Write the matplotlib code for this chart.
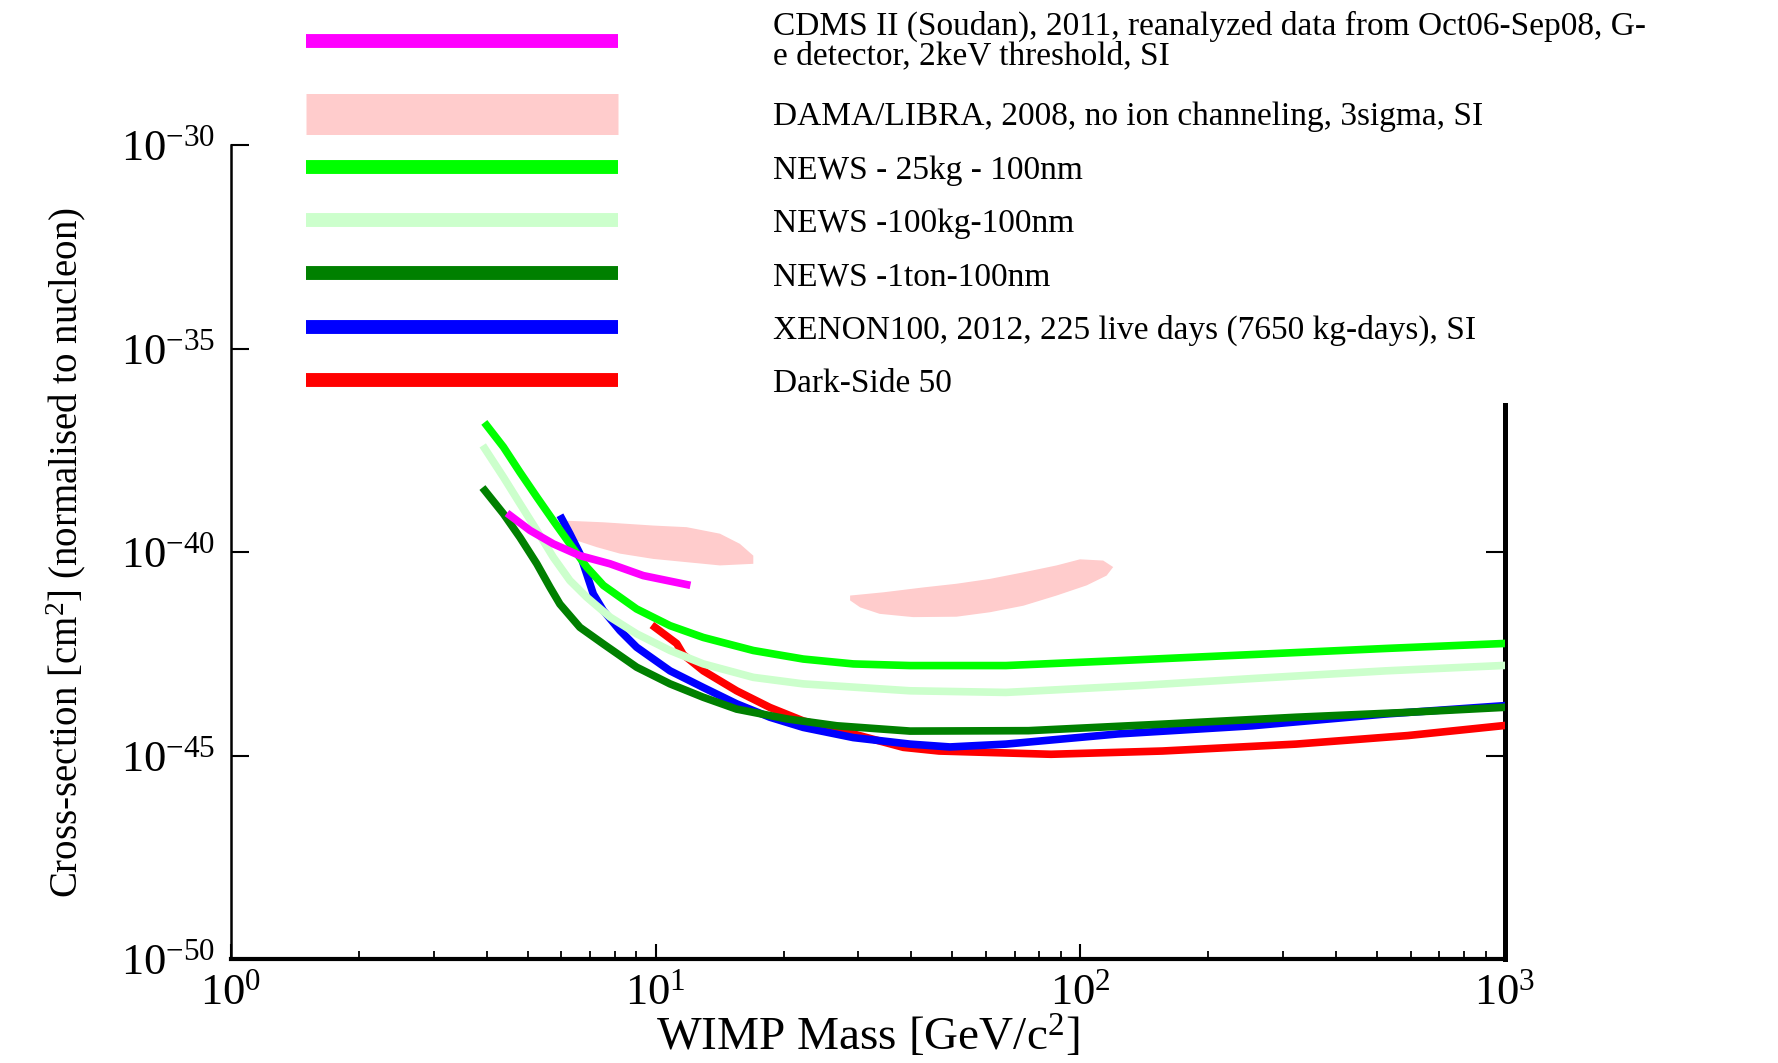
import numpy as np
import matplotlib.pyplot as plt
from matplotlib.lines import Line2D
from matplotlib.ticker import LogLocator, NullLocator, NullFormatter

plt.rcParams['font.family'] = 'Liberation Serif'
plt.rcParams['mathtext.fontset'] = 'custom'
plt.rcParams['mathtext.rm'] = 'Liberation Serif'
plt.rcParams['mathtext.it'] = 'Liberation Serif:italic'
plt.rcParams['mathtext.bf'] = 'Liberation Serif:bold'

# WIMP mass [GeV] and log10(cross-section [cm^2])
cdms_m = [4.54, 5.06, 5.74, 6.63, 7.81, 9.35, 11.83]
cdms_s = [-39.10, -39.47, -39.80, -40.09, -40.29, -40.58, -40.80]

# DAMA/LIBRA 3 sigma regions (closed contours)
dama1_m = [6.12, 7.53, 9.87, 11.83, 14.17, 15.79, 16.98, 16.98, 14.17, 11.83, 9.87, 8.24,
           7.26, 6.52, 6.17, 6.12]
dama1_s = [-39.23, -39.27, -39.35, -39.39, -39.55, -39.80, -40.09, -40.29, -40.33, -40.25,
           -40.17, -40.04, -39.88, -39.72, -39.47, -39.23]
dama2_m = [28.7, 34.4, 42.7, 51.1, 61.3, 73.4, 87.9, 99.8, 113.2, 119.5, 115.3, 103.5, 87.9,
           73.4, 61.3, 51.1, 40.4, 33.7, 30.3, 28.7]
dama2_s = [-41.07, -40.99, -40.87, -40.78, -40.66, -40.50, -40.33, -40.18, -40.21, -40.37,
           -40.58, -40.82, -41.07, -41.32, -41.48, -41.59, -41.60, -41.52, -41.36, -41.19]

news25_m = [4.0, 4.38, 4.79, 5.25, 5.74, 6.28, 6.88, 7.53, 9.02, 10.81, 12.95, 16.98, 22.26,
            29.2, 39.7, 66.8, 122.6, 253.6, 524, 983]
news25_s = [-36.89, -37.42, -38.04, -38.65, -39.23, -39.80, -40.37, -40.82, -41.40, -41.81,
            -42.10, -42.42, -42.63, -42.75, -42.79, -42.79, -42.67, -42.52, -42.37, -42.25]

news100_m = [3.96, 4.38, 4.79, 5.25, 5.74, 6.28, 6.88, 7.81, 9.02, 10.81, 12.95, 16.98, 22.26,
             39.7, 66.8, 138, 253.6, 524, 983]
news100_s = [-37.46, -38.16, -38.81, -39.47, -40.13, -40.70, -41.11, -41.60, -42.01, -42.42,
             -42.75, -43.08, -43.24, -43.41, -43.45, -43.28, -43.11, -42.92, -42.79]

news1t_m = [3.96, 4.38, 4.79, 5.25, 5.64, 5.95, 6.63, 7.53, 9.02, 10.81, 12.95, 15.51, 20.35,
            26.7, 39.7, 75.5, 156, 322, 590, 983]
news1t_s = [-38.49, -39.06, -39.64, -40.29, -40.87, -41.28, -41.85, -42.26, -42.83, -43.24,
            -43.57, -43.86, -44.10, -44.27, -44.40, -44.39, -44.23, -44.06, -43.94, -43.82]

xenon_m = [6.01, 6.28, 6.63, 6.88, 7.13, 7.53, 8.24, 9.02, 10.81, 12.95, 15.51, 18.58, 22.26,
           29.2, 39.7, 49.3, 66.8, 122.6, 253.6, 524, 983]
xenon_s = [-39.18, -39.55, -40.04, -40.54, -41.03, -41.44, -41.93, -42.34, -42.92, -43.33,
           -43.73, -44.06, -44.31, -44.56, -44.72, -44.79, -44.72, -44.47, -44.27, -43.98, -43.78]

ds50_m = [9.96, 11.21, 11.61, 12.95, 15.51, 18.58, 22.26, 29.2, 38.3, 46.5, 85.3, 156, 322,
          590, 983]
ds50_s = [-41.85, -42.25, -42.52, -42.92, -43.41, -43.82, -44.15, -44.47, -44.80, -44.89,
          -44.97, -44.89, -44.72, -44.51, -44.27]

labels = ['CDMS II (Soudan), 2011, reanalyzed data from Oct06-Sep08, G-\ne detector, 2keV threshold, SI',
          'DAMA/LIBRA, 2008, no ion channeling, 3sigma, SI',
          'NEWS - 25kg - 100nm',
          'NEWS -100kg-100nm',
          'NEWS -1ton-100nm',
          'XENON100, 2012, 225 live days (7650 kg-days), SI',
          'Dark-Side 50']
colors = ['#ff00ff', '#ffcccc', '#00ff00', '#ccffcc', '#008000', '#0000ff', '#ff0000']

fig = plt.figure(figsize=(17.78, 10.63), dpi=100)
ax = fig.add_axes([231/1778, 1 - 959/1063, 1274/1778, 814/1063])

lw = 5.5
ax.fill(dama1_m, 10**np.array(dama1_s), color=colors[1], lw=0)
ax.fill(dama2_m, 10**np.array(dama2_s), color=colors[1], lw=0)
ax.plot(ds50_m, 10**np.array(ds50_s), color=colors[6], lw=lw)
ax.plot(xenon_m, 10**np.array(xenon_s), color=colors[5], lw=lw)
ax.plot(news1t_m, 10**np.array(news1t_s), color=colors[4], lw=lw)
ax.plot(news100_m, 10**np.array(news100_s), color=colors[3], lw=lw)
ax.plot(news25_m, 10**np.array(news25_s), color=colors[2], lw=lw)
ax.plot(cdms_m, 10**np.array(cdms_s), color=colors[0], lw=lw)

ax.set_xscale('log')
ax.set_yscale('log')
ax.set_xlim(1, 1000)
ax.set_ylim(1e-50, 1e-30)
ax.set_yticks([1e-50, 1e-45, 1e-40, 1e-35, 1e-30])
ax.yaxis.set_minor_locator(NullLocator())
ax.xaxis.set_minor_locator(LogLocator(base=10, subs=np.arange(2, 10)))
ax.xaxis.set_minor_formatter(NullFormatter())

ax.spines['top'].set_visible(False)
ax.spines['right'].set_visible(False)
ax.spines['left'].set_linewidth(1.8)
ax.spines['bottom'].set_linewidth(3)
ax.tick_params(axis='y', which='major', direction='in', length=13, width=1.5,
               labelsize=32, pad=11, right=False)
ax.tick_params(axis='x', which='major', direction='in', length=11, width=1.5,
               labelsize=32, pad=10, top=False)
ax.tick_params(axis='x', which='minor', direction='in', length=6, width=1.3, top=False)

sec = ax.secondary_yaxis('right')
sec.set_yticks([1e-50, 1e-45, 1e-40])
sec.yaxis.set_minor_locator(NullLocator())
sec.tick_params(which='major', direction='in', length=14, width=1.5, labelright=False)
sec.spines['right'].set_bounds(1e-50, 10**-36.4)
sec.spines['right'].set_linewidth(3.6)

ax.set_xlabel('WIMP Mass [GeV/c$^{2}$]', fontsize=34, va='baseline')
ax.xaxis.set_label_coords(0.5, -0.113)
ax.set_ylabel('Cross-section [cm$^{2}$] (normalised to nucleon)', fontsize=28)
ax.yaxis.set_label_coords(-0.112, 0.5)

handles = [Line2D([], [], color=c, lw=10, solid_capstyle='butt') for c in colors]
handles[1] = Line2D([], [], color=colors[1], lw=29.5, solid_capstyle='butt')
leg_kw = dict(loc='upper left', frameon=False, fontsize=24, handlelength=9.36,
              handletextpad=4.65, labelspacing=0.68, borderpad=0, borderaxespad=0)
leg1 = fig.legend(handles[:1], labels[:1], bbox_to_anchor=(306/1778, 1 - 11/1063), **leg_kw)
leg1.get_texts()[0].set_linespacing(0.92)
leg2 = fig.legend(handles[1:], labels[1:], bbox_to_anchor=(306/1778, 1 - 102/1063), **leg_kw)

fig.savefig('out.png', dpi=100)
